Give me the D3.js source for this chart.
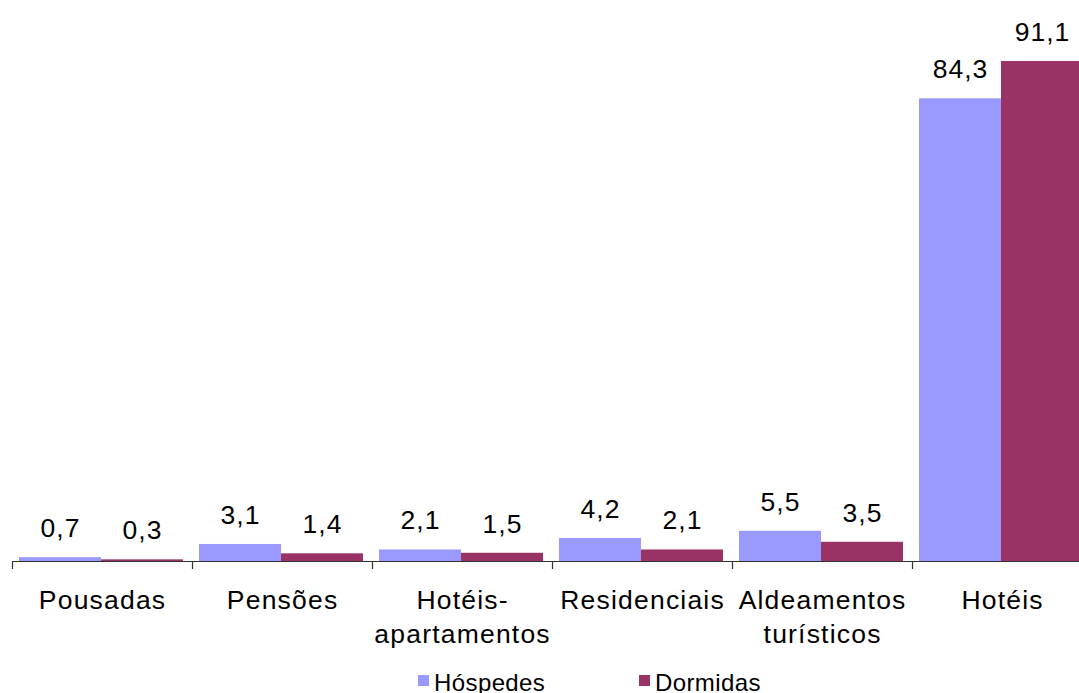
<!DOCTYPE html>
<html><head><meta charset="utf-8">
<script src="https://cdn.jsdelivr.net/npm/d3@7"></script>
<style>body{margin:0;background:#fff;overflow:hidden}svg{display:block}</style>
</head><body>
<svg id="c" width="1079" height="693"></svg>
<script>
const categories = [["Pousadas"],["Pensões"],["Hotéis-","apartamentos"],["Residenciais"],["Aldeamentos","turísticos"],["Hotéis"]];
const series = ["Hóspedes","Dormidas"];
const hospedes = [0.7,3.1,2.1,4.2,5.5,84.3];
const dormidas = [0.3,1.4,1.5,2.1,3.5,91.1];
const labelsHospedes = ["0,7","3,1","2,1","4,2","5,5","84,3"];
const labelsDormidas = ["0,3","1,4","1,5","2,1","3,5","91,1"];
const colors = ["#9999FF","#993366"];

const svg = d3.select("#c");
const font = "Liberation Sans, Arial, sans-serif";
const idx = categories.map((d,i)=>i);
const x0 = d3.scaleBand().domain(idx).range([12,1092]).padding(0);
const x1 = d3.scaleBand().domain(series).range([7,171]).padding(0);
const y = d3.scaleLinear().domain([0,91.1]).range([561,61]);

const data = idx.map(i=>({i, vals:[{s:series[0],v:hospedes[i],l:labelsHospedes[i]},{s:series[1],v:dormidas[i],l:labelsDormidas[i]}]}));

const g = svg.selectAll("g.cat").data(data).enter().append("g")
  .attr("transform",d=>`translate(${x0(d.i)},0)`);
g.selectAll("rect").data(d=>d.vals).enter().append("rect")
  .attr("x",d=>x1(d.s)).attr("width",x1.bandwidth())
  .attr("y",d=>y(d.v)).attr("height",d=>y(0)-y(d.v))
  .attr("fill",(d,j)=>colors[j]);
g.selectAll("text.val").data(d=>d.vals).enter().append("text")
  .attr("x",d=>x1(d.s)+x1.bandwidth()/2+0.5).attr("y",d=>y(d.v)-20)
  .attr("text-anchor","middle").attr("font-family",font).attr("font-size",26.5)
  .attr("letter-spacing",1).attr("fill","#000").text(d=>d.l);

// axis
svg.append("line").attr("x1",12).attr("x2",1079).attr("y1",561.5).attr("y2",561.5)
  .attr("stroke","#333").attr("stroke-width",1.2);
const ticks = d3.range(0,7).map(i=>12+i*x0.bandwidth());
svg.selectAll("line.tick").data(ticks).enter().append("line")
  .attr("x1",d=>Math.round(d)+0.5).attr("x2",d=>Math.round(d)+0.5).attr("y1",561).attr("y2",569)
  .attr("stroke","#333").attr("stroke-width",1.2);

// category labels
const lab = svg.selectAll("text.cat").data(data).enter().append("text")
  .attr("text-anchor","middle").attr("font-family",font).attr("font-size",26.5)
  .attr("letter-spacing",1.2).attr("fill","#000");
lab.selectAll("tspan").data(d=>categories[d.i].map(t=>({t,i:d.i}))).enter().append("tspan")
  .attr("x",d=>x0(d.i)+x0.bandwidth()/2+0.6).attr("y",(d,k)=>609+k*34).text(d=>d.t);

// legend
const legX = [418,639];
series.forEach((s,k)=>{
  svg.append("rect").attr("x",legX[k]).attr("y",675).attr("width",11).attr("height",11).attr("fill",colors[k]);
  svg.append("text").attr("x",legX[k]+16).attr("y",691).attr("font-family",font).attr("font-size",24)
    .attr("letter-spacing",0.4).attr("fill","#000").text(s);
});
</script>
</body></html>
